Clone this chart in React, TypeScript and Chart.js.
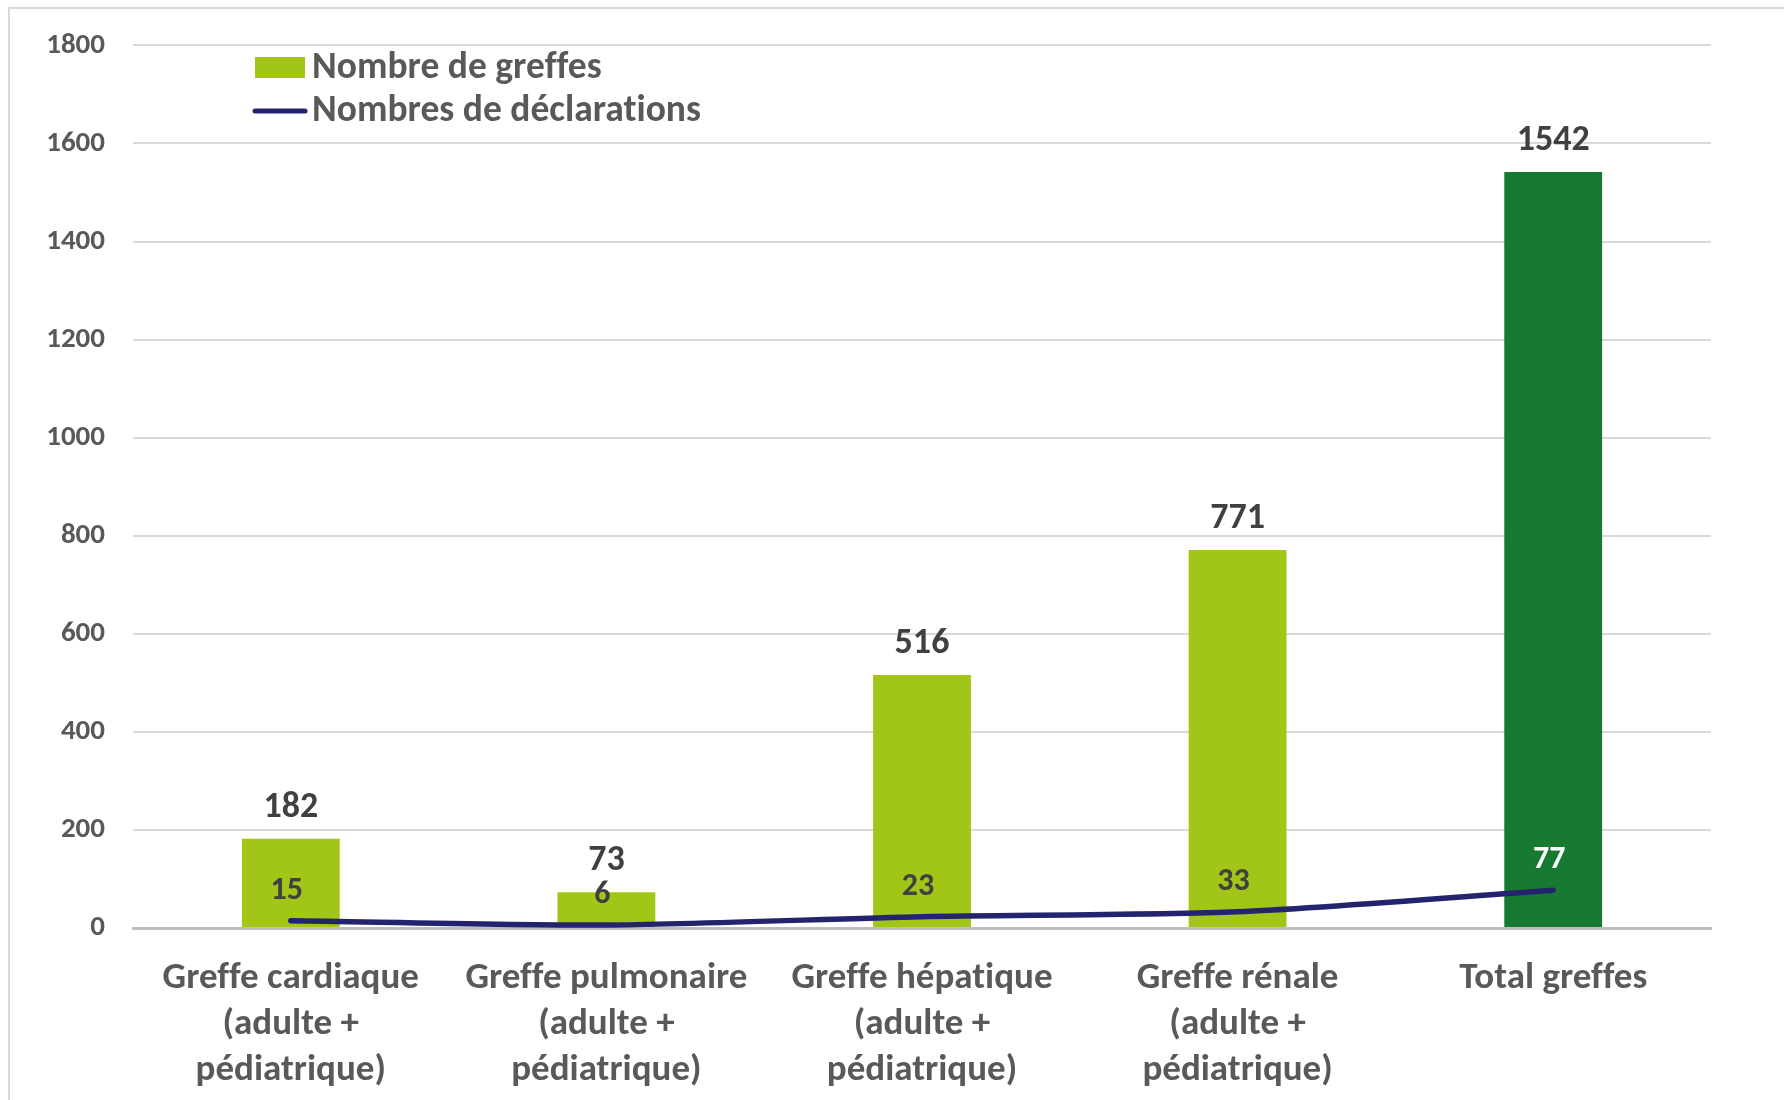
import React, { useEffect, useRef } from "react";
import { Chart, registerables } from "chart.js";

Chart.register(...registerables);

const categories: string[][] = [
  ["Greffe cardiaque", "(adulte +", "pédiatrique)"],
  ["Greffe pulmonaire", "(adulte +", "pédiatrique)"],
  ["Greffe hépatique", "(adulte +", "pédiatrique)"],
  ["Greffe rénale", "(adulte +", "pédiatrique)"],
  ["Total greffes"],
];
const greffes = [182, 73, 516, 771, 1542];
const declarations = [15, 6, 23, 33, 77];
const barColors = ["#A2C617", "#A2C617", "#A2C617", "#A2C617", "#187A31"];
const declLabelColors = ["#404040", "#404040", "#404040", "#404040", "#FFFFFF"];
const legendLabels = ["Nombre de greffes", "Nombres de déclarations"];
const yMax = 1800;
const yStep = 200;

const FONT = "Carlito, Lato, 'Open Sans', sans-serif";
const TEXT = "#595959";
const LABEL = "#404040";
const LINE = "#24246E";

const overlayPlugin = {
  id: "overlay",
  beforeDraw(chart: any) {
    const ctx = chart.ctx;
    (ctx as any).letterSpacing = "0.01px";
    ctx.save();
    ctx.strokeStyle = "#D9D9D9";
    ctx.lineWidth = 2;
    ctx.beginPath();
    ctx.moveTo(9, 1100);
    ctx.lineTo(9, 8);
    ctx.lineTo(1784, 8);
    ctx.stroke();
    ctx.restore();
  },
  afterDraw(chart: any) {
    const ctx = chart.ctx;
    ctx.save();
    (ctx as any).letterSpacing = "0.01px";
    ctx.textAlign = "center";
    ctx.textBaseline = "middle";
    // bar value labels
    const barMeta = chart.getDatasetMeta(0);
    ctx.font = `bold 36px ${FONT}`;
    ctx.fillStyle = LABEL;
    barMeta.data.forEach((el: any, i: number) => {
      ctx.fillText(String(greffes[i]), el.x, el.y - 31);
    });
    // line value labels
    const lineMeta = chart.getDatasetMeta(1);
    ctx.font = `bold 32px ${FONT}`;
    lineMeta.data.forEach((el: any, i: number) => {
      ctx.fillStyle = declLabelColors[i];
      ctx.fillText(String(declarations[i]), el.x - 4, el.y - 30);
    });
    // legend
    ctx.fillStyle = "#A2C617";
    ctx.fillRect(255, 57, 50, 21);
    ctx.strokeStyle = LINE;
    ctx.lineWidth = 5;
    ctx.lineCap = "round";
    ctx.beginPath();
    ctx.moveTo(255, 111);
    ctx.lineTo(305, 111);
    ctx.stroke();
    ctx.textAlign = "left";
    ctx.fillStyle = TEXT;
    ctx.font = `bold 37.5px ${FONT}`;
    ctx.fillText(legendLabels[0], 312, 69);
    ctx.fillText(legendLabels[1], 312, 112);
    ctx.restore();
  },
};

export default function App() {
  const ref = useRef<HTMLCanvasElement>(null);
  useEffect(() => {
    document.body.style.margin = "0";
    document.body.style.overflow = "hidden";
    const chart = new Chart(ref.current!, {
      type: "bar",
      data: {
        labels: categories,
        datasets: [
          {
            type: "bar",
            label: legendLabels[0],
            data: greffes,
            backgroundColor: barColors,
            barPercentage: 0.62,
            categoryPercentage: 0.5,
            order: 2,
          },
          {
            type: "line",
            label: legendLabels[1],
            data: declarations,
            borderColor: LINE,
            borderWidth: 5.5,
            pointRadius: 0,
            tension: 0.25,
            borderCapStyle: "round",
            order: 1,
          } as any,
        ],
      },
      options: {
        responsive: false,
        animation: false,
        layout: { padding: { top: 43, right: 73, left: 0, bottom: 0 } },
        plugins: { legend: { display: false }, tooltip: { enabled: false } },
        scales: {
          x: {
            grid: { display: false, drawTicks: false },
            border: { display: true, color: "#BFBFBF", width: 3 },
            ticks: {
              color: TEXT,
              font: { family: FONT, size: 37, weight: "bold", lineHeight: 1.24 },
              padding: 28,
              maxRotation: 0,
              autoSkip: false,
            },
            afterFit(scale: any) {
              scale.height = 172;
            },
          },
          y: {
            min: 0,
            max: yMax,
            grid: { color: "#D9D9D9", lineWidth: 2, drawTicks: false },
            border: { display: false },
            ticks: {
              stepSize: yStep,
              color: TEXT,
              font: { family: FONT, size: 29, weight: "bold" },
              padding: 28,
              callback: (v: any) => String(v),
            },
            afterFit(scale: any) {
              scale.width = 133;
            },
          },
        },
      },
      plugins: [overlayPlugin],
    });
    return () => chart.destroy();
  }, []);
  return (
    <div style={{ position: "fixed", left: 0, top: 0, width: 1784, height: 1100, background: "#fff" }}>
      <canvas ref={ref} width={1784} height={1100} style={{ width: 1784, height: 1100, display: "block" }} />
    </div>
  );
}
